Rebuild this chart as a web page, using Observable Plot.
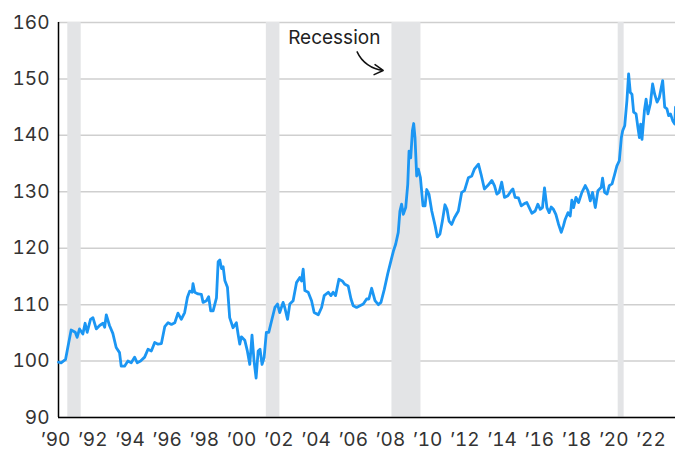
<!DOCTYPE html>
<html><head><meta charset="utf-8">
<script src="https://cdn.jsdelivr.net/npm/d3@7"></script>
<script src="https://cdn.jsdelivr.net/npm/@observablehq/plot@0.6"></script>
<style>body{margin:0;background:#fff} svg{display:block}</style>
</head><body><div id="chart"></div>
<script>
const years = [1990.0, 1990.14, 1990.38, 1990.5, 1990.68, 1990.9, 1991.0, 1991.13, 1991.31, 1991.43, 1991.54, 1991.72, 1991.85, 1992.03, 1992.21, 1992.39, 1992.48, 1992.57, 1992.74, 1992.92, 1993.1, 1993.28, 1993.37, 1993.55, 1993.73, 1993.91, 1994.09, 1994.23, 1994.41, 1994.63, 1994.81, 1994.99, 1995.17, 1995.35, 1995.53, 1995.71, 1995.89, 1996.07, 1996.25, 1996.42, 1996.6, 1996.78, 1996.93, 1997.05, 1997.18, 1997.23, 1997.32, 1997.5, 1997.68, 1997.77, 1997.95, 1998.07, 1998.18, 1998.31, 1998.49, 1998.58, 1998.67, 1998.76, 1998.85, 1998.94, 1999.08, 1999.2, 1999.38, 1999.56, 1999.65, 1999.74, 1999.83, 2000.01, 2000.15, 2000.28, 2000.4, 2000.51, 2000.62, 2000.73, 2000.83, 2000.94, 2001.05, 2001.17, 2001.3, 2001.45, 2001.63, 2001.77, 2001.89, 2002.07, 2002.16, 2002.31, 2002.43, 2002.61, 2002.79, 2002.97, 2003.06, 2003.15, 2003.24, 2003.42, 2003.6, 2003.74, 2003.96, 2004.14, 2004.28, 2004.5, 2004.64, 2004.76, 2004.89, 2005.07, 2005.25, 2005.39, 2005.57, 2005.72, 2005.84, 2006.02, 2006.2, 2006.38, 2006.56, 2006.68, 2006.83, 2007.01, 2007.19, 2007.33, 2007.51, 2007.69, 2007.87, 2008.0, 2008.12, 2008.26, 2008.35, 2008.44, 2008.53, 2008.66, 2008.77, 2008.84, 2008.93, 2009.02, 2009.09, 2009.16, 2009.25, 2009.34, 2009.45, 2009.59, 2009.7, 2009.79, 2009.91, 2010.06, 2010.24, 2010.36, 2010.5, 2010.63, 2010.77, 2010.88, 2010.99, 2011.13, 2011.28, 2011.49, 2011.67, 2011.82, 2012.03, 2012.21, 2012.35, 2012.57, 2012.71, 2012.89, 2013.07, 2013.29, 2013.43, 2013.56, 2013.68, 2013.82, 2013.97, 2014.15, 2014.33, 2014.42, 2014.54, 2014.72, 2014.87, 2015.04, 2015.17, 2015.3, 2015.44, 2015.62, 2015.76, 2015.89, 2016.01, 2016.12, 2016.25, 2016.37, 2016.48, 2016.6, 2016.73, 2016.87, 2017.02, 2017.14, 2017.23, 2017.38, 2017.5, 2017.59, 2017.68, 2017.81, 2017.95, 2018.13, 2018.31, 2018.45, 2018.58, 2018.7, 2018.85, 2018.99, 2019.17, 2019.24, 2019.35, 2019.48, 2019.6, 2019.75, 2019.89, 2020.01, 2020.14, 2020.25, 2020.32, 2020.43, 2020.55, 2020.64, 2020.73, 2020.82, 2020.91, 2021.04, 2021.14, 2021.22, 2021.29, 2021.36, 2021.49, 2021.58, 2021.68, 2021.81, 2021.93, 2022.04, 2022.17, 2022.29, 2022.47, 2022.58, 2022.7, 2022.79, 2022.89, 2023.01, 2023.12, 2023.16];
const values = [99.8, 99.7, 100.3, 102.4, 105.5, 105.1, 104.2, 105.7, 104.8, 106.7, 105.1, 107.4, 107.7, 105.7, 106.3, 106.7, 106.0, 108.2, 106.3, 104.9, 102.4, 101.5, 99.1, 99.1, 100.0, 99.7, 100.7, 99.7, 100.0, 100.7, 102.1, 101.8, 103.3, 103.0, 103.1, 106.1, 106.8, 106.5, 106.8, 108.5, 107.4, 108.6, 111.3, 112.4, 112.2, 113.7, 112.2, 111.9, 111.8, 110.4, 110.7, 111.4, 108.9, 108.9, 111.2, 117.6, 117.9, 116.4, 116.7, 114.3, 113.1, 107.7, 105.9, 106.8, 104.8, 103.0, 104.3, 103.7, 101.8, 99.4, 104.6, 100.0, 97.0, 101.8, 102.1, 99.4, 100.6, 105.1, 105.1, 107.1, 109.5, 110.1, 108.6, 110.4, 109.5, 107.4, 110.1, 110.7, 113.9, 114.8, 114.2, 116.3, 112.5, 112.2, 110.7, 108.6, 108.2, 109.5, 111.6, 112.2, 111.6, 112.2, 111.6, 114.5, 114.2, 113.6, 113.3, 111.0, 109.8, 109.5, 109.8, 110.1, 111.0, 111.0, 112.9, 110.7, 110.0, 110.4, 112.7, 115.4, 117.8, 119.5, 120.7, 122.8, 126.6, 127.8, 126.0, 127.2, 131.3, 137.2, 136.0, 140.8, 142.1, 139.6, 132.8, 134.0, 132.5, 127.5, 127.5, 130.4, 129.6, 126.6, 124.0, 122.0, 122.5, 124.8, 127.7, 126.9, 124.8, 124.2, 125.4, 126.6, 129.9, 130.2, 132.5, 132.8, 134.0, 134.9, 133.1, 130.5, 131.1, 132.0, 131.1, 129.6, 129.9, 131.7, 129.0, 129.3, 130.2, 130.5, 129.0, 128.9, 127.5, 127.9, 128.1, 127.2, 126.2, 126.6, 127.8, 126.9, 127.2, 130.7, 127.2, 126.3, 127.3, 126.9, 126.0, 124.3, 122.8, 124.0, 125.1, 126.3, 125.7, 128.5, 127.2, 129.0, 128.1, 129.9, 131.1, 130.2, 128.4, 129.9, 127.2, 130.2, 130.8, 132.4, 129.9, 129.6, 131.1, 131.4, 133.1, 134.6, 135.5, 139.6, 140.8, 141.7, 146.2, 150.9, 147.6, 147.3, 144.1, 143.8, 141.4, 139.6, 142.0, 139.3, 144.4, 146.4, 143.8, 145.6, 149.1, 147.3, 145.9, 146.7, 149.7, 145.0, 144.7, 143.5, 143.8, 142.6, 142.0, 145.0];

const recessionStart = [1990.5, 2001.17, 2007.92, 2020.08];
const recessionEnd = [1991.22, 2001.9, 2009.48, 2020.4];

const xTicks = [1990, 1992, 1994, 1996, 1998, 2000, 2002, 2004, 2006, 2008, 2010, 2012, 2014, 2016, 2018, 2020, 2022];
const xTickLabels = ["’90", "’92", "’94", "’96", "’98", "’00", "’02", "’04", "’06", "’08", "’10", "’12", "’14", "’16", "’18", "’20", "’22"];
const yTicks = [90, 100, 110, 120, 130, 140, 150, 160];

const annotationLabel = ["Recession"];
const annotationX = [2004.82];
const annotationY = [157.2];
const arrowFrom = [2006.05, 154.8];
const arrowTo = [2007.45, 151.5];

const data = years.map((y, i) => ({year: y, value: values[i]}));
const recessions = recessionStart.map((s, i) => ({start: s, end: recessionEnd[i]}));
const notes = annotationLabel.map((t, i) => ({text: t, x: annotationX[i], y: annotationY[i]}));
const arrows = [{x1: arrowFrom[0], y1: arrowFrom[1], x2: arrowTo[0], y2: arrowTo[1]}];

const font = "Inter, 'Noto Sans', sans-serif";

const chart = Plot.plot({
  width: 675,
  height: 452,
  marginLeft: 58,
  marginRight: 0,
  marginTop: 22,
  marginBottom: 35,
  style: {fontFamily: font, fontSize: "19px", color: "#333", background: "#fff"},
  x: {domain: [1990, 2023.16], label: null},
  y: {domain: [90, 160], label: null},
  marks: [
    Plot.gridY(yTicks, {stroke: "#cfcfcf", strokeOpacity: 1, strokeWidth: 1.5}),
    Plot.rect(recessions, {x1: "start", x2: "end", y1: 90, y2: 160, fill: "#e3e4e6"}),
    Plot.ruleX([1990], {stroke: "#000", strokeWidth: 1.5}),
    Plot.ruleY([90], {stroke: "#000", strokeWidth: 1.5}),
    Plot.lineY(data, {x: "year", y: "value", stroke: "#1b96f3", strokeWidth: 2.8, curve: "linear"}),
    Plot.axisX(xTicks, {tickFormat: d => xTickLabels[xTicks.indexOf(d)], tickSize: 0, tickPadding: 15, dx: -3, fill: "#333", fontSize: 19, label: null}),
    Plot.axisY(yTicks, {tickSize: 0, tickPadding: 9, fill: "#333", fontSize: 19, label: null}),
    Plot.text(notes, {x: "x", y: "y", text: "text", fill: "#222", fontSize: 19, textAnchor: "middle", fontFamily: font}),
    Plot.arrow(arrows, {x1: "x1", y1: "y1", x2: "x2", y2: "y2", bend: -30, stroke: "#111", strokeWidth: 1.5, headLength: 10})
  ]
});
document.getElementById("chart").appendChild(chart);
</script>
</body></html>
